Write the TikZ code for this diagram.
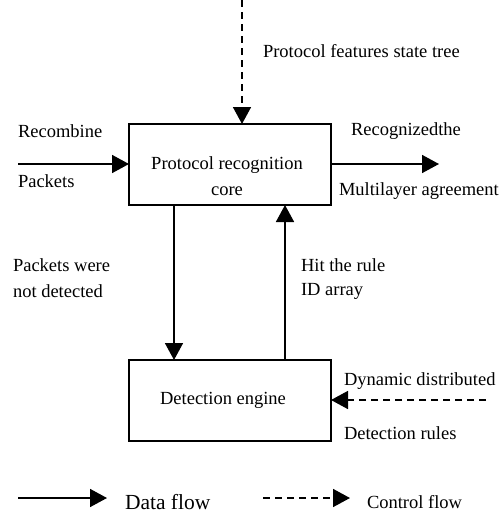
\documentclass[tikz,border=0pt]{standalone}
\usepackage{fontspec}
\setmainfont{Liberation Serif}
\usetikzlibrary{arrows.meta}
\begin{document}
\begin{tikzpicture}[x=1pt,y=-1pt,
  every node/.style={inner sep=0pt,outer sep=0pt},
  blk/.style={draw,line width=1.6pt,minimum width=202pt,minimum height=81pt,anchor=north west,font=\fontsize{18.5}{22}\selectfont,align=center},
  lbl/.style={anchor=west,font=\fontsize{18.5}{22}\selectfont},
  flow/.style={line width=1.6pt,-{Triangle[length=17pt,width=18pt]}},
  ctrl/.style={flow,dash pattern=on 7pt off 5pt}]
\useasboundingbox (0,0) rectangle (503,514);
\node[blk] (core) at (129,124) {};
\node[font=\fontsize{18.5}{22}\selectfont,align=center] (coretxt) at (227,176) {Protocol recognition\\[4pt]core};
\node[blk] (det) at (129,360) {};
\node[font=\fontsize{18.5}{22}\selectfont] (dettxt) at (223,400) {Detection engine};
% inputs / outputs
\coordinate (topin) at (242,0);
\coordinate (leftin) at (18,164);
\coordinate (rightout) at (439,164);
\coordinate (rightin) at (486,400);
\draw[ctrl] (topin) -- (core.north -| topin);
\draw[flow] (leftin) -- (core.west |- leftin);
\draw[flow] (core.east |- rightout) -- (rightout);
\draw[flow] ([xshift=-56pt]core.south) -- ([xshift=-56pt]det.north);
\draw[flow] ([xshift=55pt]det.north) -- ([xshift=55pt]core.south);
\draw[ctrl] (rightin) -- (det.east |- rightin);
% labels
\node[lbl] (l1) at (263,51) {Protocol features state tree};
\node[lbl] (l2) at (18,131) {Recombine};
\node[lbl] (l3) at (18,181) {Packets};
\node[lbl] (l4) at (351,131) {Recognizedthe};
\node[lbl] (l5) at (339,191) {Multilayer agreement};
\node[lbl] (l6) at (13,265) {Packets were};
\node[lbl] (l7) at (13,291) {not detected};
\node[lbl] (l8) at (301,265) {Hit the rule};
\node[lbl] (l9) at (301,291) {ID array};
\node[lbl] (l10) at (344,381) {Dynamic distributed};
\node[lbl] (l11) at (344,433) {Detection rules};
% legend
\coordinate (la) at (18,498);
\coordinate (lb) at (107,498);
\coordinate (lc) at (263,498);
\coordinate (ld) at (350,498);
\draw[flow] (la) -- (lb);
\draw[ctrl] (lc) -- (ld);
\node[lbl,font=\fontsize{21.5}{24}\selectfont] (lg1) at (125,502) {Data flow};
\node[lbl] (lg2) at (367,502) {Control flow};
\end{tikzpicture}
\end{document}
